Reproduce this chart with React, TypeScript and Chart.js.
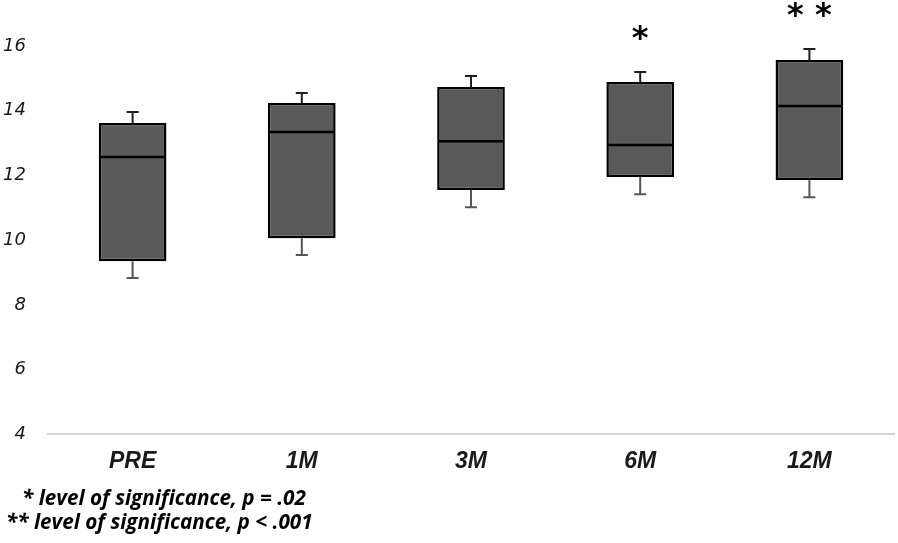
import React, { useEffect, useRef } from "react";
import { Chart, registerables } from "chart.js";

Chart.register(...registerables);

const categories = ["PRE", "1M", "3M", "6M", "12M"];
const q1 = [9.35, 10.06, 11.55, 11.95, 11.86];
const q3 = [13.62, 14.24, 14.73, 14.89, 15.57];
const medians = [12.57, 13.34, 13.06, 12.94, 14.15];
const whiskerLow = [8.83, 9.54, 11.02, 11.42, 11.33];
const whiskerHigh = [13.96, 14.55, 15.07, 15.2, 15.91];
const significance = ["", "", "", "*", "* *"];
const yTicks = [4, 6, 8, 10, 12, 14, 16];
const footnotes = [
  "* level of significance, p = .02",
  "** level of significance, p < .001",
];

const boxPlugin = {
  id: "boxExtras",
  afterDatasetsDraw(chart: any) {
    const ctx = chart.ctx;
    const x = chart.scales.x;
    const y = chart.scales.y;
    const meta = chart.getDatasetMeta(0);
    ctx.save();
    meta.data.forEach((bar: any, i: number) => {
      const cx = bar.x;
      const half = bar.width / 2;
      ctx.strokeStyle = "#000";
      ctx.lineWidth = 2.5;
      ctx.beginPath();
      ctx.moveTo(cx - half + 1, y.getPixelForValue(medians[i]));
      ctx.lineTo(cx + half - 1, y.getPixelForValue(medians[i]));
      ctx.stroke();
      ctx.lineWidth = 2;
      ctx.strokeStyle = "#1e1e1e";
      const yTop = y.getPixelForValue(q3[i]);
      const yHi = y.getPixelForValue(whiskerHigh[i]);
      ctx.beginPath();
      ctx.moveTo(cx, yTop);
      ctx.lineTo(cx, yHi);
      ctx.moveTo(cx - 6, yHi);
      ctx.lineTo(cx + 6, yHi);
      ctx.stroke();
      ctx.strokeStyle = "#555";
      const yBot = y.getPixelForValue(q1[i]);
      const yLo = y.getPixelForValue(whiskerLow[i]);
      ctx.beginPath();
      ctx.moveTo(cx, yBot);
      ctx.lineTo(cx, yLo);
      ctx.moveTo(cx - 6, yLo);
      ctx.lineTo(cx + 6, yLo);
      ctx.stroke();
      if (significance[i]) {
        ctx.fillStyle = "#000";
        ctx.font = "bold 32px 'DejaVu Sans'";
        ctx.textAlign = "center";
        ctx.textBaseline = "middle";
        ctx.fillText(significance[i], x.getPixelForValue(i), yHi - 32);
      }
    });
    ctx.fillStyle = "#000";
    ctx.font = "italic bold 20.7px 'Open Sans'";
    ctx.textAlign = "left";
    ctx.textBaseline = "middle";
    ctx.fillText(footnotes[0], 22, 499);
    ctx.fillText(footnotes[1], 6, 523);
    ctx.restore();
  },
};

export default function App() {
  const ref = useRef<HTMLCanvasElement | null>(null);
  useEffect(() => {
    if (!ref.current) return;
    const chart = new Chart(ref.current, {
      type: "bar",
      data: {
        labels: categories,
        datasets: [
          {
            data: categories.map((_, i) => [q1[i], q3[i]]) as any,
            backgroundColor: "#595959",
            borderColor: "#000",
            borderWidth: 2.5,
            borderSkipped: false,
            barPercentage: 0.4,
            categoryPercentage: 1,
          },
        ],
      },
      options: {
        animation: false,
        responsive: true,
        maintainAspectRatio: false,
        layout: { padding: { top: 46, right: 4, bottom: 55, left: 0 } },
        plugins: {
          legend: { display: false },
          tooltip: { enabled: false },
        },
        scales: {
          x: {
            grid: { display: false, drawTicks: false },
            border: { display: true, color: "#d4d4d4", width: 2 },
            ticks: {
              color: "#1a1a1a",
              padding: 13,
              font: { family: "'Liberation Sans', Arial", size: 23, style: "italic", weight: "bold" },
            },
          },
          y: {
            min: 4,
            max: 16,
            afterFit: (scale: any) => {
              scale.width = 48;
            },
            afterBuildTicks: (scale: any) => {
              scale.ticks = yTicks.map((v) => ({ value: v }));
            },
            grid: { display: false, drawTicks: false },
            border: { display: false },
            ticks: {
              color: "#1a1a1a",
              padding: 22,
              font: { family: "'DejaVu Sans'", size: 18, style: "italic" },
            },
          },
        },
      },
      plugins: [boxPlugin],
    });
    return () => chart.destroy();
  }, []);
  return (
    <div style={{ position: "absolute", left: 0, top: 0, width: 898, height: 543, background: "#fff" }}>
      <canvas ref={ref} />
    </div>
  );
}
